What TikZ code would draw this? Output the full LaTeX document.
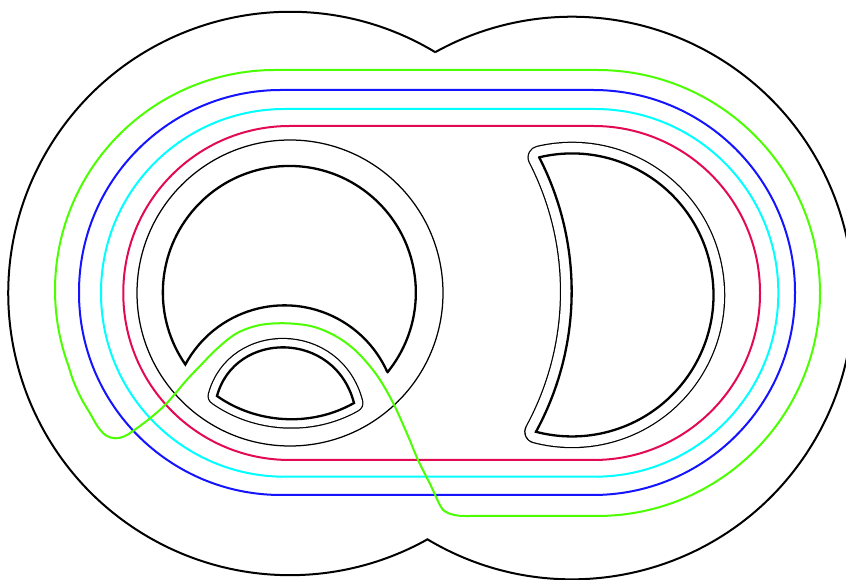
\documentclass[tikz,border=0pt]{standalone}
\definecolor{kgreen}{RGB}{76,255,0}
\definecolor{kblue}{RGB}{20,20,255}
\definecolor{kcyan}{RGB}{0,255,255}
\definecolor{kred}{RGB}{228,10,82}
\begin{document}
\begin{tikzpicture}[x=1pt,y=1pt,
  outer/.style={line width=2pt},
  thickline/.style={line width=2.3pt, line join=miter},
  thinline/.style={line width=1.25pt},
  offsetloop/.style={draw=black, line width=1.25pt, double=white, double distance=19pt, line join=round},
  colored/.style={line width=2pt}]
\useasboundingbox (0,0) rectangle (846,580);
\clip (0,0) rectangle (846,580);
\fill[white] (0,0) rectangle (846,580);

% outer boundary: union of two circles
\draw[outer] (435.3,527.8) arc[start angle=58.94,end angle=299.22,radius=281.7pt]
  arc[start angle=239.09,end angle=479.08,radius=281.3pt] -- cycle;

% thin offset loops
\draw[offsetloop, double distance=16.5pt] (217,184) .. controls (235,250) and (335,250) .. (354,177)
  .. controls (310,152) and (255,157) .. (217,184) -- cycle;
\draw[offsetloop, double distance=21pt] (539.3,422.7) arc[start angle=103.36,end angle=-104.75,radius=141.5pt]
  arc[start angle=-28.55,end angle=27.19,radius=293.5pt] -- cycle;

% fill interiors
\fill[white] (217,184) .. controls (235,250) and (335,250) .. (354,177)
  .. controls (310,152) and (255,157) .. (217,184) -- cycle;
\fill[white] (539.3,422.7) arc[start angle=103.36,end angle=-104.75,radius=141.5pt]
  arc[start angle=-28.55,end angle=27.19,radius=293.5pt] -- cycle;

% thick shapes
\draw[thickline] (217,184) .. controls (235,250) and (335,250) .. (354,177)
  .. controls (310,152) and (255,157) .. (217,184) -- cycle;
\draw[thickline] (539.3,422.7) arc[start angle=103.36,end angle=-104.75,radius=141.5pt]
  arc[start angle=-28.55,end angle=27.19,radius=293.5pt] -- cycle;
\draw[thickline] (387.7,208) arc[start angle=-38.96,end angle=214.7,radius=126.5pt]
  arc[start angle=151.6,end angle=24.4,radius=112.7pt] -- cycle;

% thin circle around C
\draw[thinline] (290,287) circle[radius=153pt];

% coloured loops
\draw[colored,kred,rounded corners=166.5pt] (123.3,120) rectangle (760,454);
\draw[colored,kcyan,rounded corners=183.5pt] (101,103.3) rectangle (778.3,471);
\draw[colored,kblue,rounded corners=202pt] (79,85) rectangle (795,490);
\draw[colored,kgreen,line join=round] (597,510) -- (275,510)
  arc[start angle=90,end angle=200,radius=220pt]
  -- plot[smooth,tension=0.55] coordinates{(68.3,214.8) (73,200) (81,182) (90,166.7) (98,153) (106,144.5) (115,141.7) (124,143.5) (133,149) (150,161.7) (166.7,176.7) (186.7,200) (200,214) (216.7,231) (236.7,246.7) (260,255) (286.7,256.7) (313.3,253.3) (336.7,243.3) (356.7,228.3) (376.7,205) (393.3,176.7) (408.3,143.3) (418,120) (431,94) (441,73) (448,67) (458.7,64.3) (470,64)}
  -- (597,64) arc[start angle=-90,end angle=90,radius=223pt] -- cycle;
\end{tikzpicture}
\end{document}
